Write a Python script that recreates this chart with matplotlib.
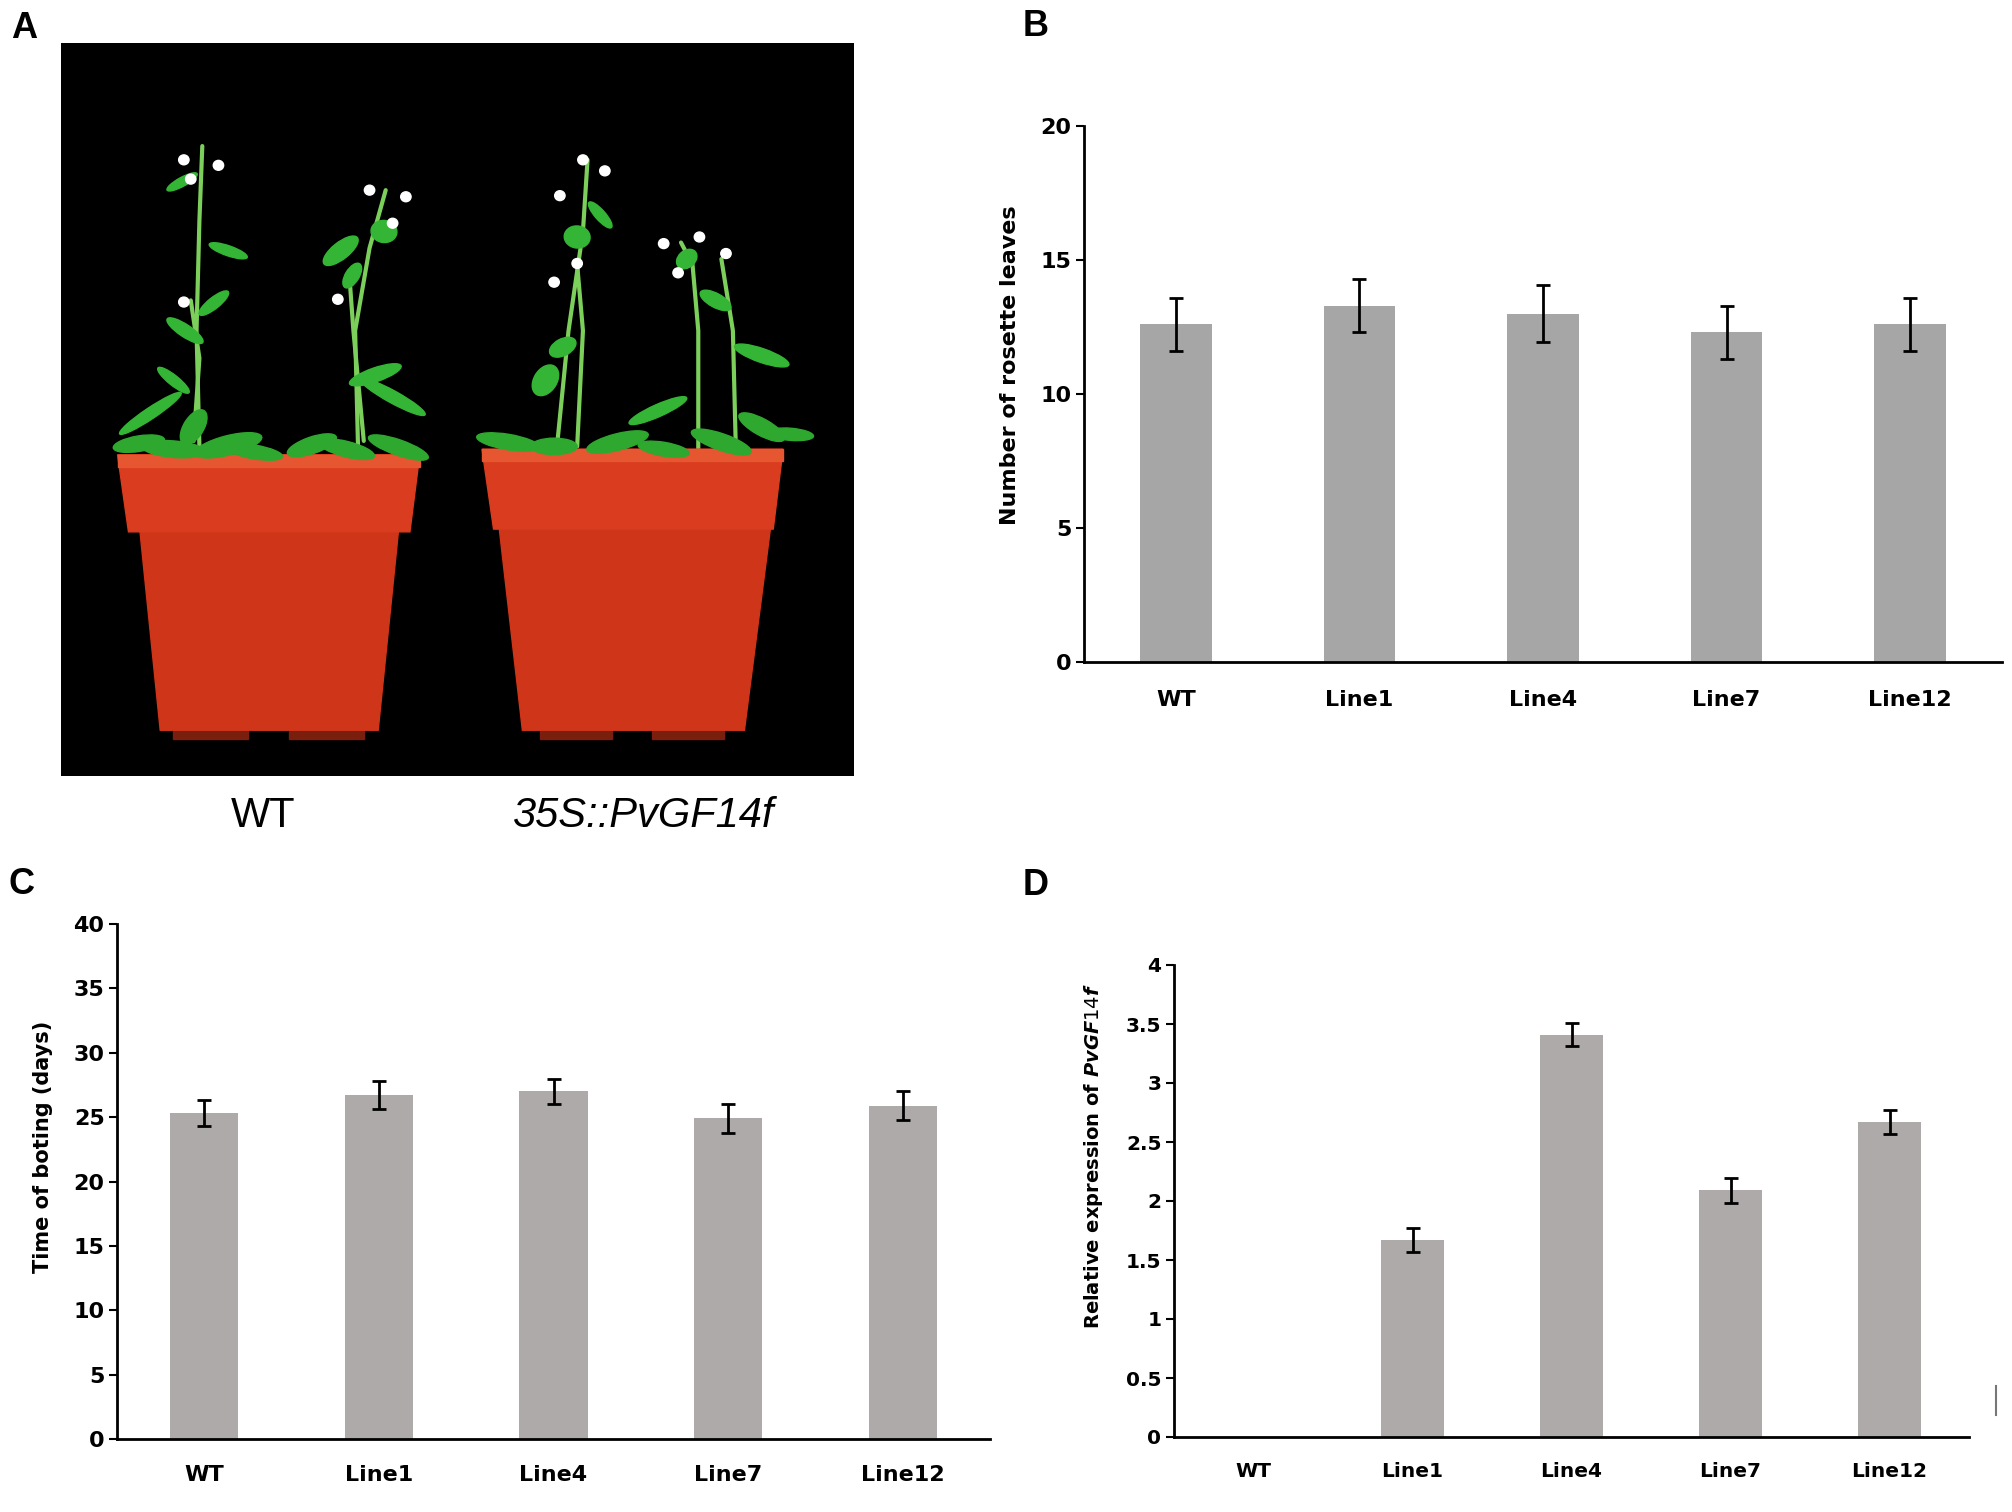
import numpy as np
import matplotlib
matplotlib.use("Agg")
import matplotlib.pyplot as plt
from matplotlib.patches import Polygon, Ellipse, Rectangle, Circle
from matplotlib.ticker import FuncFormatter

# data
lines = ["WT", "Line1", "Line4", "Line7", "Line12"]
rosette_mean = [12.6, 13.3, 13.0, 12.3, 12.6]
rosette_err = [1.0, 1.0, 1.05, 1.0, 1.0]
bolting_mean = [25.3, 26.7, 27.0, 24.9, 25.9]
bolting_err = [1.0, 1.1, 1.0, 1.1, 1.1]
expr_mean = [0.0, 1.67, 3.41, 2.09, 2.67]
expr_err = [0.0, 0.10, 0.10, 0.105, 0.105]

W, H = 2012, 1512
fig = plt.figure(figsize=(W / 100, H / 100), dpi=100)


def box(x0, y0, x1, y1):
    # pixel box (top-left origin) -> figure fraction
    return [x0 / W, 1 - y1 / H, (x1 - x0) / W, (y1 - y0) / H]


def bar_panel(rect, means, errs, color, ymax, step, fs, ylabel, ylab_fs,
              lab_xy, xpad, fmt=None):
    ax = fig.add_axes(rect)
    x = np.arange(len(lines))
    ax.bar(x, means, width=0.39, color=color, zorder=2)
    m = np.array(errs) > 0
    ax.errorbar(x[m], np.array(means)[m], yerr=np.array(errs)[m], fmt="none",
                ecolor="black", elinewidth=2, capsize=5, capthick=2, zorder=3)
    ax.set_xlim(-0.5, len(lines) - 0.5)
    ax.set_ylim(0, ymax)
    ax.set_yticks(np.arange(0, ymax + step / 2, step))
    if fmt:
        ax.yaxis.set_major_formatter(FuncFormatter(fmt))
    ax.set_xticks(x)
    ax.set_xticklabels(lines)
    for s in ["top", "right"]:
        ax.spines[s].set_visible(False)
    for s in ["left", "bottom"]:
        ax.spines[s].set_linewidth(2)
    ax.tick_params(axis="y", length=6, width=1.5, pad=3, labelsize=fs)
    ax.tick_params(axis="x", length=0, pad=xpad, labelsize=fs)
    for t in ax.get_xticklabels() + ax.get_yticklabels():
        t.set_fontweight("bold")
    ax.set_ylabel(ylabel, fontsize=ylab_fs, fontweight="bold")
    ax.yaxis.set_label_coords(*lab_xy)
    return ax


plt.rcParams["font.family"] = ["DejaVu Sans"]
plt.rcParams["mathtext.fontset"] = "custom"
plt.rcParams["mathtext.it"] = "DejaVu Sans:italic:bold"

# panel B
bar_panel(box(1084, 126, 2002, 662), rosette_mean, rosette_err, "#a6a6a6",
          20, 5, 16, "Number of rosette leaves", 16, (-0.070, 0.554), 20)

# panel C
bar_panel(box(117, 924, 990, 1439), bolting_mean, bolting_err, "#aeaaaa",
          40, 5, 16, "Time of boting (days)", 15, (-0.073, 0.567), 19)

# panel D
bar_panel(box(1174, 965, 1969, 1437), expr_mean, expr_err, "#aeaaaa",
          4, 0.5, 14.5, r"Relative expression of $\mathit{PvGF14f}$", 14,
          (-0.087, 0.595), 18, fmt=lambda v, p: "%g" % v)
fig.add_artist(plt.Line2D([1996 / W, 1996 / W], [1 - 1386 / H, 1 - 1415 / H],
                          color="#777777", lw=1.5))

# panel A: photo-like sketch
pa = fig.add_axes(box(61, 43, 854, 776))
pa.set_facecolor("black")
pa.set_xlim(105, 1480)
pa.set_ylim(1408, 78)
pa.set_xticks([])
pa.set_yticks([])
for s in pa.spines.values():
    s.set_visible(False)

stems = [
    [(345, 810), (340, 600), (345, 400), (350, 265)],
    [(335, 800), (345, 650), (330, 545)],
    [(620, 810), (615, 600), (640, 450), (668, 345)],
    [(630, 800), (612, 600), (605, 500)],
    [(965, 810), (985, 600), (1010, 420), (1018, 290)],
    [(1000, 810), (1010, 600), (1000, 480)],
    [(1210, 815), (1210, 600), (1200, 480), (1180, 440)],
    [(1275, 810), (1270, 600), (1250, 470)],
]
for st in stems:
    xs, ys = zip(*st)
    pa.plot(xs, ys, color="#7ccf5a", lw=3, zorder=1, solid_capstyle="round")

stem_leaves = [
    (320, 600, 75, 22, -35), (370, 550, 65, 20, 40), (395, 455, 70, 18, -20),
    (315, 330, 60, 16, 30), (590, 455, 75, 30, 40), (665, 420, 40, 45, 80),
    (610, 500, 50, 24, 60), (300, 690, 70, 18, -40), (650, 680, 95, 25, 20),
    (945, 690, 60, 40, 60), (975, 630, 50, 30, 30), (1000, 430, 40, 45, 80),
    (1240, 545, 60, 25, -30), (1190, 470, 40, 30, 45), (1040, 390, 60, 18, -50),
    (1320, 645, 100, 25, -20), (680, 720, 130, 22, -30), (260, 750, 130, 20, 35),
    (1140, 745, 110, 22, 25),
]
for x, y, w, h, a in stem_leaves:
    pa.add_patch(Ellipse((x, y), w, h, angle=-a, color="#35b535", zorder=2))

flowers = [(318, 290), (378, 300), (330, 325), (318, 548), (640, 345),
           (703, 357), (585, 543), (970, 355), (1048, 310), (1010, 290),
           (960, 512), (1150, 442), (1212, 430), (1258, 460), (1175, 495),
           (680, 405), (1000, 478)]
for x, y in flowers:
    pa.add_patch(Circle((x, y), 9, color="white", zorder=3))

pots = [
    dict(rim=[(203, 825), (727, 825), (710, 965), (222, 965)],
         body=[(242, 965), (690, 965), (655, 1325), (277, 1325)],
         feet=[(300, 430), (500, 630)]),
    dict(rim=[(835, 815), (1357, 815), (1340, 960), (855, 960)],
         body=[(865, 960), (1335, 960), (1290, 1325), (905, 1325)],
         feet=[(935, 1060), (1130, 1255)]),
]
for p in pots:
    pa.add_patch(Polygon(p["body"], closed=True, color="#cf3519", zorder=4))
    pa.add_patch(Polygon(p["rim"], closed=True, color="#d93c1e", zorder=5))
    (x0, y0), (x1, _) = p["rim"][0], p["rim"][1]
    pa.add_patch(Rectangle((x0, y0), x1 - x0, 22, color="#e65630", zorder=6))
    for f0, f1 in p["feet"]:
        pa.add_patch(Rectangle((f0, 1325), f1 - f0, 15, color="#7a1e0e", zorder=3))

rosette = [
    (240, 805, 90, 28, 10), (300, 815, 110, 30, -5), (395, 808, 120, 35, 15),
    (440, 820, 100, 25, -10), (540, 808, 90, 30, 20), (600, 815, 100, 28, -15),
    (690, 812, 110, 28, -20), (335, 775, 70, 35, 60), (880, 802, 110, 28, -10),
    (960, 810, 80, 30, 0), (1070, 802, 110, 30, 15), (1150, 815, 90, 25, -10),
    (1250, 802, 110, 30, -20), (1320, 775, 90, 30, -30), (1370, 788, 80, 22, -5),
]
for x, y, w, h, a in rosette:
    pa.add_patch(Ellipse((x, y), w, h, angle=-a, color="#2fa82f", zorder=7))

fig.text(263 / W, 1 - 816 / H, "WT", fontsize=30, family="Liberation Sans",
         ha="center", va="center")
fig.text(643 / W, 1 - 816 / H, "35S::PvGF14f", fontsize=30, style="italic",
         family="Liberation Sans", ha="center", va="center")

# panel letters
for lab, x, y in [("A", 24, 28), ("B", 1036, 26), ("C", 22, 884), ("D", 1036, 886)]:
    fig.text(x / W, 1 - y / H, lab, fontsize=26, fontweight="bold",
             family="Liberation Sans", ha="center", va="center")

fig.savefig("out.png", dpi=100)
